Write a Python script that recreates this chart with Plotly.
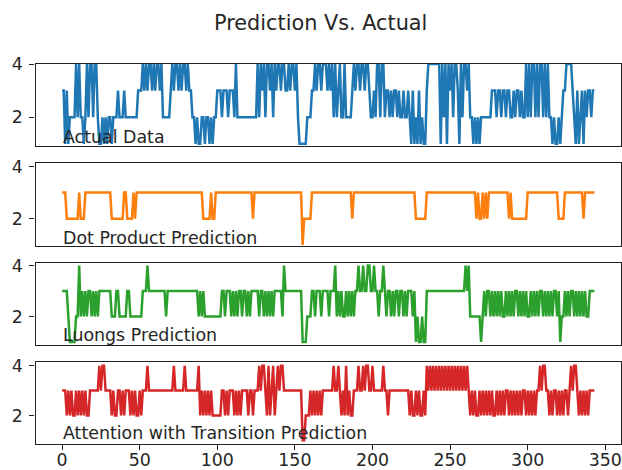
import plotly.graph_objects as go

# Class labels (1-4) per time step, 344 steps
ACTUAL = [
    3, 3, 1, 3, 1, 2, 2, 2, 2, 4, 2, 4, 2, 2, 1, 2,
    4, 2, 4, 4, 2, 4, 4, 2, 1, 1, 2, 1, 2, 1, 2,
    2, 1, 2, 2, 2, 3, 2, 2, 2, 3, 2, 2, 2, 2, 2,
    2, 2, 2, 3, 3, 3, 4, 3, 4, 3, 4, 4, 3, 4, 3,
    4, 4, 3, 4, 2, 2, 2, 2, 2,
    3, 4, 3, 4, 4, 3, 4, 3, 4, 4, 3, 4, 3, 3, 2,
    2, 1, 2, 1, 1, 2, 2, 1, 2, 2, 1, 2, 1, 2, 2,
    3, 3, 3, 2, 3, 3, 3, 2, 3, 3, 3, 2, 4, 2, 2,
    2, 2, 2, 2, 2, 2, 2, 2, 2, 2, 2,
    4, 2, 4, 3, 4, 2, 4, 4, 3, 4, 2, 4, 3,
    4, 4, 3, 4, 4, 3, 3, 4, 3, 4, 4, 3, 4,
    2, 1, 1, 1, 1, 1, 2, 2, 2, 3, 3,
    4, 3, 4, 4, 3, 4, 4, 4, 3, 4, 3, 4,
    2, 4, 2, 3, 4, 2, 2, 4, 2, 2, 2, 2, 3,
    4, 3, 4, 4, 3, 4, 4, 3, 4, 4, 3,
    2, 2, 3, 2, 4, 4, 2, 4, 4, 2,
    3, 3, 2, 3, 2, 3, 3, 2, 3, 2, 2, 3, 2, 2, 3,
    2, 1, 3, 1, 2, 1, 3, 1, 2, 1, 1, 3,
    4, 4, 4, 4, 4, 4, 4, 4, 1,
    4, 2, 4, 1, 4, 3, 4, 2, 4, 4, 3, 1, 4, 2, 4, 4, 3, 4,
    2, 2, 1, 2, 1, 2, 1, 2, 2, 2, 2, 2, 2, 2, 3,
    3, 3, 2, 3, 3, 2, 3, 3, 2, 3, 3, 2, 2, 3, 2, 3, 3, 2, 3, 2, 2,
    4, 2, 4, 2, 4, 4, 2, 4, 2, 4, 4, 2, 4, 2, 4, 2,
    2, 1, 2, 1, 1, 2, 1, 2, 3, 3,
    4, 4, 4, 4, 3, 2, 1, 3, 1, 2, 3, 1, 3, 2, 3,
    3, 2, 3, 3,
]

DOT_PRODUCT = [
    3, 3, 3, 2, 2, 2, 2, 2, 2, 2, 2, 3, 2, 2, 2,
    3, 3, 3, 3, 3, 3, 3, 3, 3, 3, 3, 3, 3, 3, 3, 3, 3,
    2, 2, 2, 2, 2, 2, 2, 2, 3, 3, 2, 2, 2, 2, 3, 2,
    3, 3, 3, 3, 3, 3, 3, 3, 3, 3, 3, 3, 3, 3, 3, 3, 3, 3, 3, 3,
    3, 3, 3, 3, 3, 3, 3, 3, 3, 3, 3, 3, 3, 3, 3, 3, 3, 3, 3, 3,
    3, 3, 3,
    2, 2, 2, 2, 2, 3, 2, 2,
    3, 3, 3, 3, 3, 3, 3, 3, 3, 3, 3, 3, 3, 3, 3, 3, 3, 3, 3, 3,
    3, 3, 3, 3,
    2,
    3, 3, 3, 3, 3, 3, 3, 3, 3, 3, 3, 3, 3, 3, 3, 3, 3, 3, 3, 3,
    3, 3, 3, 3, 3, 3, 3, 3, 3, 3, 3,
    1, 2, 2, 2, 2, 2,
    3, 3, 3, 3, 3, 3, 3, 3, 3, 3, 3, 3, 3, 3, 3, 3, 3, 3, 3, 3,
    3, 3, 3, 3, 3, 3,
    2,
    3, 3, 3, 3, 3, 3, 3, 3, 3, 3, 3, 3, 3, 3, 3, 3, 3, 3, 3, 3,
    3, 3, 3, 3, 3, 3, 3, 3, 3, 3, 3, 3, 3, 3, 3, 3, 3, 3, 3, 3,
    2, 2, 2, 2, 2, 2, 2,
    3, 3, 3, 3, 3, 3, 3, 3, 3, 3, 3, 3, 3, 3, 3, 3, 3, 3, 3, 3,
    3, 3, 3, 3, 3, 3, 3, 3, 3, 3, 3, 3,
    2, 3, 2, 2, 3, 2, 3, 2, 3,
    3, 3, 3, 3, 3, 3, 3, 3, 3, 3, 3, 3,
    2, 3,
    2, 2, 2, 2, 2, 2, 2, 2, 2, 2,
    3, 3, 3, 3, 3, 3, 3, 3, 3, 3, 3, 3, 3, 3, 3, 3, 3, 3, 3, 3,
    2, 2, 2, 2,
    3, 3, 3, 3, 3, 3, 3, 3, 3, 3, 3, 3,
    2,
    3, 3, 3, 3, 3, 3, 3,
]

LUONG = [
    3, 3, 3, 3, 2, 1, 1, 1, 1, 2, 2, 4,
    2, 3, 2, 3, 2, 3, 3, 2, 3, 2, 3, 2, 3,
    3, 3, 3, 3, 3, 3, 3,
    2, 2, 2, 3, 3, 2, 2, 2, 2, 2, 3, 3,
    2, 2, 2, 2, 2, 2, 2, 2, 3, 3, 3, 4,
    3, 3, 3, 3, 3, 3, 3, 3, 3, 3, 3, 2,
    3, 3, 3, 3, 3, 3, 3, 3, 3, 3, 3, 3, 3, 3, 3, 3, 3, 3, 3, 3,
    2, 3, 2, 3,
    2, 2, 2, 2, 2, 2, 2, 2, 2, 2, 2,
    3, 3, 2, 3, 3, 3, 2, 3, 2, 3, 2, 3, 3, 2, 3, 3, 2, 3, 2, 3,
    3, 3, 3, 3, 2, 3, 3, 2, 3, 2, 3, 2, 3, 2, 3, 3, 3, 3, 3, 2,
    4, 3, 3, 3, 3, 3, 3, 3, 3, 3, 3, 3,
    1, 1, 1, 2, 2, 2, 3, 3, 2,
    3, 3, 3, 2, 3, 3, 3, 3, 2, 3, 3, 3, 4,
    2, 3, 2, 3, 2, 2, 3, 2, 3, 2, 3, 2, 3, 3,
    4, 3, 3, 4, 3, 3, 4, 4, 3, 3, 4, 3, 3, 2, 3, 3, 4, 3,
    2, 3, 3, 2, 3, 2, 3, 3, 2, 3, 3, 2, 3, 2, 3, 3, 3, 2, 3,
    1, 2, 1, 1, 2, 1, 1, 3,
    3, 3, 3, 3, 3, 3, 3, 3, 3, 3, 3, 3, 3, 3, 3, 3, 3, 3, 3, 3,
    3, 3, 3, 3,
    4, 3, 4, 2, 2, 2, 2, 2, 2, 2, 1,
    2, 3, 2, 3, 3, 2, 3, 2, 3, 2, 3, 2, 3, 2, 2, 3, 2, 3, 2, 3,
    2, 3, 3, 2, 3, 2, 3, 2, 3, 2, 2, 3, 2, 3, 2, 3, 2, 3, 3, 2,
    3, 2, 3, 2, 3, 2, 3, 3, 2, 3,
    1,
    2, 2, 3, 2, 3, 2, 3, 3, 2, 3, 2, 3, 2, 3, 2, 3, 2, 2,
    3, 3, 3, 3,
]

ATTENTION_TRANSITION = [
    3, 3, 3, 2, 3, 2, 3, 2, 2, 3, 2, 3, 2, 3, 2, 3, 2, 2,
    3, 3, 3, 3, 3, 3, 4, 3, 4, 4, 3, 3, 3, 3,
    2, 3, 2, 2, 3, 3, 2, 3, 2, 3, 3, 3, 2, 3, 2, 3, 2, 2, 3, 2, 3,
    3, 3, 4,
    3, 3, 3, 3, 3, 3, 3, 3, 3, 3, 3, 3, 3, 3, 3, 3,
    4, 3, 3, 3, 3, 3, 3, 4, 3, 3, 3, 3, 3, 3, 3, 3, 4,
    2, 3, 2, 3, 2, 3, 2, 3, 2, 2, 2, 2, 2, 2,
    3, 3, 2, 3, 2, 3, 3, 3, 2, 3, 2, 3, 2, 3, 3, 3, 3, 2, 3, 3, 2, 3, 3,
    3, 4, 3, 4, 4, 3, 2, 4, 2, 3, 4, 2, 3,
    4, 3, 4, 4, 3,
    3, 3, 3, 3, 3, 3, 3, 3, 3, 3, 3,
    1, 1, 2, 2, 2,
    3, 2, 3, 2, 3, 2, 3, 2, 3, 3, 3, 3, 3, 3, 3,
    4, 3, 3, 4, 3, 2, 3, 2, 4, 2, 3, 2, 2, 3, 3, 3,
    4, 3, 3, 4, 3, 4, 4, 3, 3, 4,
    3, 3, 3, 3, 3, 3, 4, 3, 3, 2,
    3, 3, 3, 3, 3, 3, 3, 3, 3, 3, 3, 3, 3,
    2, 3, 2, 2, 3, 2, 3, 2, 2, 3, 2,
    4, 3, 4, 3, 4, 3, 4, 3, 4, 3, 4, 3, 4, 3,
    4, 3, 4, 3, 4, 3, 4, 3, 4, 3, 4, 3, 4, 3,
    2, 3, 2, 3, 2, 2, 3, 2, 3, 2, 3, 2, 3, 2, 3, 2, 2, 3, 2, 3,
    2, 3, 2, 3, 3, 2, 3, 2, 3, 2, 3, 2, 3, 2, 3, 3, 2, 3, 2, 3,
    2, 3, 2, 3, 3,
    4, 3, 4, 4, 3,
    3, 2, 3, 2, 3, 3, 2, 3, 2, 3, 2, 3, 3, 2, 3,
    4, 3, 4, 4, 3,
    2, 3, 2, 3, 2, 3, 2, 3,
    3, 3, 3,
]

PANEL_LABELS = [
    "Actual Data",
    "Dot Product Prediction",
    "Luongs Prediction",
    "Attention with Transition Prediction",
]
X_TICKS = [0, 50, 100, 150, 200, 250, 300, 350]
Y_TICKS = [2, 4]

series = [ACTUAL, DOT_PRODUCT, LUONG, ATTENTION_TRANSITION]
colors = ["#1f77b4", "#ff7f0e", "#2ca02c", "#d62728"]

W, H = 622, 470
FONT = "DejaVu Sans"
LABEL_SIZE = 17.4
TITLE_SIZE = 20.8
TEXT_COLOR = "#262626"

# panel boxes in pixels (top, bottom) and y limits per panel
panel_px = [(64, 146), (162.5, 245.5), (263, 344.5), (362, 444)]
y_limits = [(0.92, 4.0), (0.98, 4.15), (0.9, 4.1), (0.85, 4.15)]
x_dom = [35.5 / W, 621 / W]

fig = go.Figure()
layout = dict(
    width=W, height=H,
    autosize=False,
    margin=dict(l=0, r=0, t=0, b=0, pad=0, autoexpand=False),
    paper_bgcolor="white", plot_bgcolor="white",
    showlegend=False,
    font=dict(family=FONT, size=LABEL_SIZE, color=TEXT_COLOR),
    annotations=[],
)

for i, (vals, col, label) in enumerate(zip(series, colors, PANEL_LABELS)):
    n = i + 1
    xs = list(range(len(vals)))
    fig.add_trace(go.Scatter(
        x=xs, y=vals, mode="lines",
        line=dict(color=col, width=2.5),
        xaxis=f"x{n}", yaxis=f"y{n}",
        hoverinfo="skip",
    ))
    top, bot = panel_px[i]
    last = i == len(series) - 1
    xkey = "xaxis" if n == 1 else f"xaxis{n}"
    ykey = "yaxis" if n == 1 else f"yaxis{n}"
    layout[xkey] = dict(
        domain=x_dom, anchor=f"y{n}",
        range=[-17.15, 360.15],
        automargin=False,
        showline=True, mirror=True, linecolor="#222", linewidth=1.3,
        showgrid=False, zeroline=False,
        ticks="outside" if last else "",
        ticklen=5, tickwidth=1.2, tickcolor="#222",
        ticklabelstandoff=-5,
        tickvals=X_TICKS if last else [],
        showticklabels=last,
        tickfont=dict(family=FONT, size=LABEL_SIZE, color=TEXT_COLOR),
    )
    layout[ykey] = dict(
        domain=[1 - bot / H, 1 - top / H], anchor=f"x{n}",
        range=list(y_limits[i]),
        automargin=False,
        showline=True, mirror=True, linecolor="#222", linewidth=1.3,
        showgrid=False, zeroline=False,
        ticks="outside", ticklen=5, tickwidth=1.2, tickcolor="#222",
        ticklabelstandoff=3,
        tickvals=Y_TICKS,
        tickfont=dict(family=FONT, size=LABEL_SIZE, color=TEXT_COLOR),
    )
    layout["annotations"].append(dict(
        x=0, y=1, xref=f"x{n}", yref=f"y{n}",
        text=label, showarrow=False,
        xanchor="left", yanchor="bottom", yshift=-5, xshift=-1,
        font=dict(family=FONT, size=LABEL_SIZE, color=TEXT_COLOR),
    ))

layout["annotations"].append(dict(
    x=320 / W, y=1 - 23 / H, xref="paper", yref="paper",
    text="Prediction Vs. Actual", showarrow=False,
    xanchor="center", yanchor="middle",
    font=dict(family=FONT, size=TITLE_SIZE, color=TEXT_COLOR),
))

fig.update_layout(**layout)
fig.write_html("out.html")
